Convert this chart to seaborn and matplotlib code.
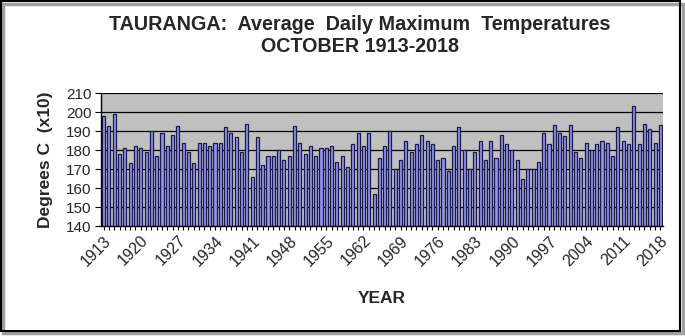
import matplotlib
matplotlib.use('Agg')
import matplotlib.pyplot as plt
import seaborn as sns
import pandas as pd
from matplotlib.patches import Rectangle

years = list(range(1913, 2019))
temps = [198, 193, 199, 178, 181, 173, 182, 181, 179, 190,
         177, 189, 182, 188, 193, 184, 179, 173, 184, 184,
         182, 184, 184, 192, 189, 187, 179, 194, 166, 187,
         172, 177, 177, 180, 175, 177, 193, 184, 178, 182,
         177, 181, 181, 182, 174, 177, 171, 183, 189, 182,
         189, 157, 176, 182, 190, 170, 175, 185, 179, 183.5,
         188, 185, 183.5, 175, 176, 169, 182, 192, 180, 170,
         179, 185, 175, 185, 176, 188, 183.5, 180, 175, 165,
         170, 170, 174, 189, 183.5, 193.5, 189, 187.5, 193.5, 179,
         176, 184, 180, 183.5, 185, 184, 177, 192, 185, 183.5,
         203.5, 183.5, 194, 191, 184, 193.5]
yticks = [140, 150, 160, 170, 180, 190, 200, 210]
label_years = list(range(1913, 2019, 7))

sns.set_style("white")
plt.rcParams['font.family'] = ['Liberation Sans', 'DejaVu Sans']

W, H = 685, 336
fig = plt.figure(figsize=(W / 100, H / 100), dpi=100)
fig.patch.set_facecolor('white')

left, right, top, bottom = 101, 663, 93.3, 226
ax = fig.add_axes([left / W, 1 - bottom / H, (right - left) / W, (bottom - top) / H])

df = pd.DataFrame({'year': years, 'temp': temps})
sns.barplot(data=df, x='year', y='temp', order=years, color='#9090F0',
            saturation=1, width=0.58, edgecolor='#1A1A48', linewidth=0.9, ax=ax)

ax.set_facecolor('#C0C0C0')
ax.set_ylim(140, 210)
ax.set_yticks(yticks)
ax.set_yticklabels([str(v) for v in yticks], fontsize=11)
ax.yaxis.grid(True, color='black', linewidth=0.9)
ax.set_axisbelow(True)

ax.set_xlim(-0.5, len(years) - 0.5)
ax.set_xticks(range(len(years)))
ax.set_xticklabels([str(y) if y in label_years else '' for y in years],
                   rotation=45, ha='right', rotation_mode='anchor', fontsize=11.5)
ax.tick_params(axis='x', length=3, width=0.8, color='black', pad=2, bottom=True)
ax.tick_params(axis='y', length=4, width=0.8, color='black', pad=3, left=True)

for s in ['left', 'bottom']:
    ax.spines[s].set_color('black')
    ax.spines[s].set_linewidth(1)
ax.spines['top'].set_visible(False)
ax.spines['right'].set_visible(False)

ax.set_xlabel('YEAR', fontsize=12.5, fontweight='bold', labelpad=16)
ax.set_ylabel('Degrees C  (x10)', fontsize=12.5, fontweight='bold', labelpad=9)

fig.text(360 / W, 1 - 25 / H, 'TAURANGA:  Average  Daily Maximum  Temperatures',
         ha='center', va='center', fontsize=14.2, fontweight='bold')
fig.text(360 / W, 1 - 46 / H, 'OCTOBER 1913-2018',
         ha='center', va='center', fontsize=14.2, fontweight='bold')

# outer frame with shadow
fig.add_artist(Rectangle((3 / W, 3 / H), 680 / W, 329 / H, transform=fig.transFigure,
                         facecolor='none', edgecolor='#A0A0A0', linewidth=2.5))
fig.add_artist(Rectangle((1 / W, 5.5 / H), 679 / W, 329.5 / H, transform=fig.transFigure,
                         facecolor='none', edgecolor='black', linewidth=1.5))

fig.savefig('out.png', dpi=100)
